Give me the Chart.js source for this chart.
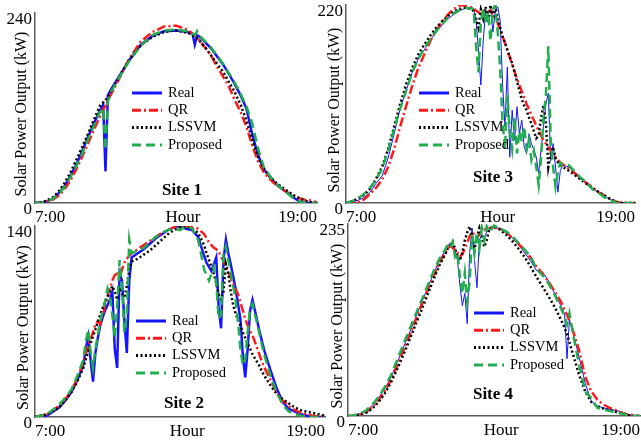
<!DOCTYPE html>
<html>
<head>
<meta charset="utf-8">
<script src="https://cdn.jsdelivr.net/npm/chart.js@4.4.0/dist/chart.umd.min.js"></script>
<style>
  html, body { margin: 0; padding: 0; background: #fff; }
  #wrap { position: relative; width: 641px; height: 444px; overflow: hidden; }
  #wrap canvas { position: absolute; left: 0; top: 0; }
</style>
</head>
<body>
<div id="wrap">
  <canvas id="site1" width="641" height="444"></canvas>
  <canvas id="site3" width="641" height="444"></canvas>
  <canvas id="site2" width="641" height="444"></canvas>
  <canvas id="site4" width="641" height="444"></canvas>
</div>
<script>
// Four sites, each: real output vs three forecasts (QR, LSSVM, proposed).
// Hours are irregular on purpose: finer where the curves are jagged.

const xTickValues = [7, 13.3, 19];
const xTickLabels = ["7:00", "Hour", "19:00"];

// ---- Site 1
const site1Hours = [7, 7.25, 7.5, 7.75, 8, 8.25, 8.5, 8.75, 9, 9.25, 9.5, 9.75,
  9.9, 10, 10.1, 10.25, 10.5, 10.75, 11, 11.5, 12, 12.5, 13, 13.5,
  13.7, 13.8, 13.9, 14, 14.25, 14.5, 14.75, 15, 15.25, 15.5, 15.75, 16,
  16.25, 16.5, 16.75, 17, 17.25, 17.5, 17.75, 18, 18.25, 18.5, 18.75, 19];
const site1Real = [0, 0.5, 2, 5, 12, 21, 34, 48, 65, 83, 100, 116,
  124, 40, 136, 144, 156, 168, 180, 200, 211, 217, 218, 216,
  214, 200, 212, 210, 203, 195, 185, 175, 163, 150, 136, 119,
  86, 60, 42, 33, 24, 18, 13, 7, 2, 0, 0, 0];
const site1QR = [0, 0, 2, 4, 9, 17, 28, 42, 58, 75, 92, 108,
  118, 123, 130, 138, 152, 167, 182, 204, 216, 223, 224, 219,
  214, 212, 209, 205, 196, 186, 172, 160, 147, 130, 115, 96,
  72, 52, 38, 30, 23, 18, 13, 9, 6, 4, 3, 1];
const site1LSSVM = [0, 1, 3, 7, 14, 25, 38, 54, 70, 87, 105, 122,
  127, 130, 134, 142, 155, 168, 180, 199, 210, 216, 218, 215,
  212, 210, 208, 205, 196, 186, 176, 166, 153, 140, 124, 104,
  80, 58, 43, 33, 26, 20, 15, 10, 6, 3, 1, 0];
const site1Proposed = [0, 0, 2, 5, 11, 20, 32, 46, 62, 80, 97, 114,
  120, 67, 128, 141, 154, 167, 179, 199, 212, 218, 219, 217,
  214, 212, 217, 211, 204, 196, 186, 176, 164, 152, 138, 122,
  100, 68, 44, 34, 25, 18, 12, 6, 2, 0, 0, 0];

// ---- Site 3
const site3Hours = [7, 7.25, 7.5, 7.75, 8, 8.25, 8.5, 8.75, 9, 9.25, 9.5, 9.75,
  10, 10.25, 10.5, 10.75, 11, 11.25, 11.5, 11.75, 12, 12.25,
  12.3, 12.4, 12.5, 12.6, 12.7, 12.8, 12.9, 13, 13.1, 13.2,
  13.3, 13.4, 13.5, 13.6, 13.7, 13.8, 13.9, 14, 14.1, 14.2,
  14.3, 14.4, 14.5, 14.6, 14.7, 14.8, 14.9, 15, 15.1, 15.2,
  15.3, 15.4, 15.5, 15.6, 15.7, 15.8, 15.9, 16,
  16.25, 16.5, 16.75, 17, 17.25, 17.5, 17.75, 18, 18.25, 18.5, 18.75, 19];
const site3Real = [0, 1, 3, 6, 12, 22, 30, 50, 77, 105, 125, 145,
  160, 170, 181, 190, 198, 205, 210, 214, 217, 217,
  216, 203, 170, 131, 181, 214, 210, 216, 190, 214,
  218, 203, 133, 85, 151, 51, 103, 70, 107, 77,
  92, 62, 55, 77, 66, 59, 51, 33, 59, 85,
  110, 122, 47, 66, 40, 12, 36, 42,
  40, 34, 28, 22, 16, 11, 7, 4, 1, 0, 0, 0];
const site3QR = [0, 0, 1, 4, 10, 17, 26, 40, 60, 85, 108, 130,
  150, 165, 180, 192, 202, 210, 216, 220, 219, 217,
  216, 214, 212, 210, 213, 215, 212, 214, 210, 208,
  200, 192, 185, 178, 170, 162, 154, 146, 138, 131,
  124, 117, 110, 104, 98, 92, 86, 80, 75, 70,
  66, 62, 58, 54, 51, 48, 45, 43,
  38, 33, 27, 22, 17, 12, 8, 4, 1, 0, 0, 0];
const site3LSSVM = [0, 2, 5, 9, 16, 27, 40, 60, 85, 110, 132, 150,
  165, 176, 186, 195, 202, 208, 213, 216, 217, 215,
  213, 205, 195, 215, 205, 218, 200, 220, 205, 218,
  205, 195, 185, 178, 170, 162, 155, 145, 135, 125,
  115, 108, 103, 95, 88, 80, 72, 75, 95, 108,
  90, 40, 55, 62, 50, 45, 42, 40,
  36, 31, 26, 21, 16, 12, 8, 4, 1, 0, 0, 0];
const site3Proposed = [0, 2, 5, 10, 17, 26, 38, 58, 82, 105, 125, 145,
  160, 172, 182, 191, 199, 206, 211, 215, 217, 216,
  215, 175, 145, 200, 217, 200, 212, 180, 215, 220,
  190, 150, 90, 60, 120, 80, 60, 95, 55, 80,
  68, 85, 60, 70, 48, 58, 40, 20, 50, 95,
  120, 174, 70, 40, 18, 35, 45, 42,
  42, 35, 28, 22, 15, 11, 6, 3, 0, 0, 0, 0];

// ---- Site 2
const site2Hours = [7, 7.5, 8, 8.25, 8.5, 8.75,
  9, 9.1, 9.2, 9.3, 9.4, 9.5, 9.6, 9.7, 9.8, 9.9, 10,
  10.1, 10.2, 10.3, 10.4, 10.5, 10.6, 10.7, 10.8, 10.9, 11,
  11.25, 11.5, 11.75, 12, 12.25, 12.5, 12.75, 13, 13.25, 13.5, 13.75,
  14, 14.1, 14.2, 14.3, 14.4, 14.5, 14.6, 14.7, 14.8, 14.9,
  15, 15.1, 15.2, 15.3, 15.4, 15.5, 15.6, 15.7, 15.8, 15.9,
  16, 16.1, 16.2, 16.3, 16.4, 16.5,
  16.75, 17, 17.25, 17.5, 17.75, 18, 18.5, 19];
const site2Real = [0, 1, 7, 12, 18, 27,
  38, 50, 59, 42, 26, 47, 58, 67, 73, 78, 82,
  86, 92, 50, 36, 105, 100, 70, 47, 100, 117,
  120, 123, 127, 131, 134, 137, 139, 140, 138, 137, 132,
  118, 113, 110, 107, 112, 117, 80, 65, 115, 130,
  120, 112, 103, 94, 83, 72, 45, 29, 50, 78,
  86, 78, 70, 62, 55, 48,
  34, 21, 11, 6, 4, 2, 0, 0];
const site2QR = [0, 2, 8, 13, 19, 28,
  40, 46, 52, 57, 62, 68, 70, 68, 74, 82, 88,
  94, 100, 104, 105, 102, 108, 113, 116, 118, 120,
  123, 126, 129, 132, 135, 137, 139, 140, 140, 139, 138,
  134, 131, 128, 126, 124, 123, 121, 118, 114, 110,
  106, 102, 98, 94, 90, 84, 78, 72, 67, 63,
  60, 55, 50, 45, 40, 36,
  27, 18, 12, 8, 5, 3, 1, 0];
const site2LSSVM = [0, 2, 7, 12, 18, 26,
  36, 42, 48, 54, 59, 64, 70, 75, 80, 84, 88,
  92, 96, 92, 86, 95, 90, 88, 96, 108, 114,
  116, 119, 122, 126, 130, 134, 137, 139, 139, 138, 135,
  126, 120, 115, 110, 105, 98, 90, 86, 92, 112,
  105, 92, 82, 76, 71, 67, 62, 58, 54, 50,
  46, 43, 40, 37, 33, 30,
  23, 17, 13, 10, 7, 5, 3, 1];
const site2Proposed = [0, 2, 9, 14, 20, 30,
  42, 55, 64, 48, 36, 50, 60, 70, 78, 85, 94,
  88, 75, 58, 80, 115, 95, 62, 75, 130, 120,
  122, 124, 128, 132, 135, 137, 138, 137, 140, 138, 130,
  108, 104, 100, 105, 110, 98, 72, 75, 120, 125,
  115, 106, 96, 86, 70, 50, 38, 42, 62, 80,
  83, 75, 68, 60, 52, 45,
  30, 18, 9, 4, 2, 1, 0, 0];

// ---- Site 4
const site4Hours = [7, 7.25, 7.5, 7.75, 8, 8.25, 8.5, 8.75, 9, 9.25, 9.5, 9.75,
  10, 10.25, 10.5, 10.75, 11,
  11.1, 11.2, 11.3, 11.4, 11.5, 11.6, 11.7, 11.8, 11.9,
  12, 12.1, 12.2, 12.3, 12.4, 12.5, 12.6, 12.7, 12.8,
  13, 13.25, 13.5, 13.75, 14, 14.25, 14.5, 14.75, 15, 15.25, 15.5, 15.75,
  15.9, 16, 16.1,
  16.25, 16.5, 16.75, 17, 17.25, 17.5, 17.75, 18, 18.25, 18.5, 18.75, 19];
const site4Real = [0, 1, 3, 6, 13, 22, 33, 46, 64, 82, 100, 118,
  137, 155, 173, 190, 203,
  208, 212, 208, 204, 190, 160, 135, 150, 113,
  200, 230, 190, 157, 215, 222, 218, 225, 228,
  230, 230, 225, 218, 210, 200, 190, 178, 176, 165, 150, 135,
  125, 70, 118,
  102, 72, 40, 18, 12, 10, 8, 7, 5, 2, 0, 0];
const site4QR = [0, 0, 2, 5, 11, 19, 30, 43, 60, 78, 96, 115,
  134, 152, 170, 187, 200,
  205, 208, 206, 203, 200, 195, 198, 205, 212,
  220, 225, 222, 218, 222, 226, 228, 229, 230,
  231, 229, 225, 218, 211, 203, 194, 183, 174, 164, 152, 140,
  130, 124, 116,
  104, 80, 48, 30, 20, 14, 10, 7, 4, 2, 1, 0];
const site4LSSVM = [0, 0, 2, 4, 9, 17, 27, 40, 56, 73, 91, 110,
  128, 147, 166, 184, 198,
  205, 208, 213, 205, 195, 190, 200, 215, 225,
  232, 220, 205, 218, 230, 220, 207, 215, 228,
  232, 228, 222, 214, 205, 195, 183, 170, 158, 146, 133, 118,
  108, 100, 90,
  75, 50, 30, 17, 12, 9, 7, 5, 3, 1, 0, 0];
const site4Proposed = [0, 1, 3, 7, 14, 23, 35, 49, 67, 86, 104, 122,
  140, 158, 176, 192, 204,
  210, 206, 213, 195, 200, 170, 150, 175, 140,
  165, 222, 200, 225, 205, 230, 215, 232, 225,
  233, 229, 226, 220, 212, 204, 195, 180, 172, 162, 148, 132,
  122, 112, 126,
  100, 62, 30, 22, 10, 8, 6, 5, 3, 1, 0, 0];

const SERIES = [
  { label: "Real",     color: "#1414ff", dash: [],           order: 3 },
  { label: "QR",       color: "#ff1a1a", dash: [9, 3, 2, 3], order: 2 },
  { label: "LSSVM",    color: "#000000", dash: [2, 2.5],     order: 1 },
  { label: "Proposed", color: "#22ad4e", dash: [9, 5],       order: 0 },
];

// area = chart area in page pixels; titleX = centre of the rotated y title
const SITES = [
  { id: "site1", name: "Site 1", yMax: 240, hours: site1Hours,
    values: [site1Real, site1QR, site1LSSVM, site1Proposed], realWidth: 2.5,
    area: { left: 35, top: 13, right: 317, bottom: 203 }, titleX: 22,
    labelAt: [182, 191], legendAt: [132, 93] },
  { id: "site3", name: "Site 3", yMax: 220, hours: site3Hours,
    values: [site3Real, site3QR, site3LSSVM, site3Proposed], realWidth: 1,
    area: { left: 346, top: 5, right: 635, bottom: 203 }, titleX: 335,
    labelAt: [493, 178], legendAt: [419, 93] },
  { id: "site2", name: "Site 2", yMax: 140, hours: site2Hours,
    values: [site2Real, site2QR, site2LSSVM, site2Proposed], realWidth: 2.5,
    area: { left: 35, top: 226, right: 325, bottom: 417 }, titleX: 24,
    labelAt: [184, 404], legendAt: [136, 321] },
  { id: "site4", name: "Site 4", yMax: 235, hours: site4Hours,
    values: [site4Real, site4QR, site4LSSVM, site4Proposed], realWidth: 1,
    area: { left: 348, top: 224, right: 640, bottom: 416 }, titleX: 338,
    labelAt: [493, 395], legendAt: [474, 313] },
];

const PAGE_W = 641, PAGE_H = 444;
const X_BOX_H = 30;
const Y_BOX_W = 35;   // wide enough that tick labels are not clipped
const SERIF = '"Liberation Serif", "Times New Roman", serif';

Chart.defaults.font.family = SERIF;
Chart.defaults.color = "#000";

// In-plot legend + bold site caption, styled from the datasets themselves.
const siteNotes = {
  id: "siteNotes",
  afterDraw(chart, args, opts) {
    const ctx = chart.ctx;
    ctx.save();
    ctx.fillStyle = "#000";
    ctx.textBaseline = "middle";
    ctx.font = `bold 17px ${SERIF}`;
    ctx.textAlign = "center";
    ctx.fillText(opts.label, opts.labelAt[0], opts.labelAt[1]);

    ctx.font = `14.5px ${SERIF}`;
    ctx.textAlign = "left";
    const [lx, ly] = opts.legendAt;
    chart.data.datasets.forEach((ds, i) => {
      const y = ly + i * opts.rowGap;
      ctx.beginPath();
      ctx.strokeStyle = ds.borderColor;
      ctx.lineWidth = 3;
      ctx.setLineDash(ds.borderDash || []);
      ctx.moveTo(lx, y);
      ctx.lineTo(lx + 30, y);
      ctx.stroke();
      ctx.setLineDash([]);
      ctx.fillText(ds.label, lx + 36, y);
    });
    ctx.restore();
  },
};

function buildSite(site) {
  const a = site.area;
  const titleFont = 16;
  const boxLeft = a.left - Y_BOX_W;
  // title centre = box left + half line height + padding.top
  const titlePad = site.titleX - boxLeft - titleFont * 1.2 / 2;

  new Chart(document.getElementById(site.id), {
    type: "line",
    data: {
      datasets: SERIES.map((s, k) => ({
        label: s.label,
        data: site.hours.map((h, i) => ({ x: h, y: site.values[k][i] })),
        borderColor: s.color,
        borderDash: s.dash,
        borderWidth: k === 0 ? site.realWidth : 2.5,
        pointRadius: 0,
        tension: 0,
        fill: false,
        order: s.order,
      })),
    },
    options: {
      responsive: false,
      animation: false,
      events: [],
      layout: {
        autoPadding: false,
        padding: {
          left: boxLeft,
          top: a.top,
          right: PAGE_W - a.right,
          bottom: PAGE_H - a.bottom - X_BOX_H,
        },
      },
      plugins: {
        legend: { display: false },
        tooltip: { enabled: false },
        siteNotes: { label: site.name, labelAt: site.labelAt, legendAt: site.legendAt, rowGap: 17.3 },
      },
      scales: {
        x: {
          type: "linear",
          min: 7,
          max: 19,
          grid: { display: false, drawTicks: false },
          border: { display: true, color: "#5a5a5a", width: 1.5 },
          afterBuildTicks: (sc) => { sc.ticks = xTickValues.map((v) => ({ value: v })); },
          afterFit: (sc) => { sc.height = X_BOX_H; sc.paddingLeft = 0; sc.paddingRight = 0; },
          ticks: {
            align: "inner",
            autoSkip: false,
            maxRotation: 0,
            padding: 4,
            font: { size: 17 },
            callback: (v, i) => xTickLabels[i],
          },
        },
        y: {
          type: "linear",
          min: 0,
          max: site.yMax,
          grid: { display: false, drawTicks: false },
          border: { display: true, color: "#5a5a5a", width: 1.5 },
          afterBuildTicks: (sc) => { sc.ticks = [{ value: 0 }, { value: site.yMax }]; },
          afterFit: (sc) => { sc.width = Y_BOX_W; sc.paddingTop = 0; sc.paddingBottom = 0; },
          ticks: {
            padding: 3,
            labelOffset: 7,
            font: { size: 17 },
            callback: (v) => String(v),
          },
          title: {
            display: true,
            // trailing spaces nudge the centred text a few px downwards
            text: "Solar Power Output (kW)   ",
            font: { size: titleFont },
            padding: { top: titlePad, bottom: 0 },
          },
        },
      },
    },
    plugins: [siteNotes],
  });
}

SITES.forEach(buildSite);
</script>
</body>
</html>
